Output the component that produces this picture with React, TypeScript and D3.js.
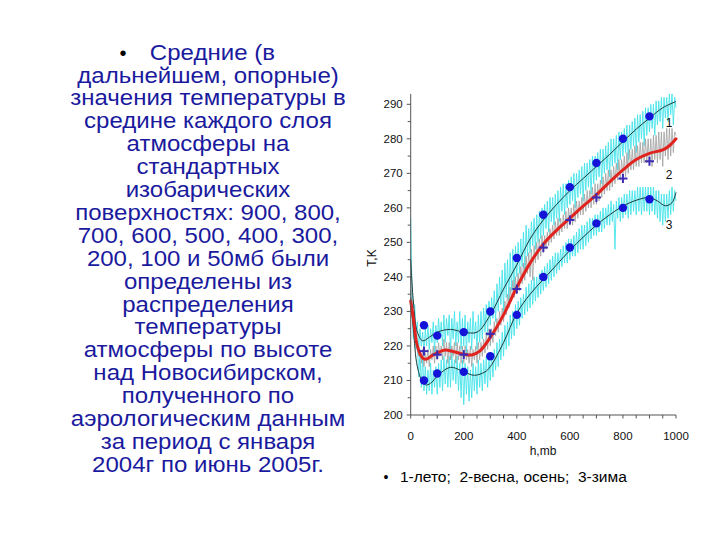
import React from 'react';
import * as d3 from 'd3';

// Standard isobaric levels (mb) and mean temperatures (K)
const levels = [50, 100, 200, 300, 400, 500, 600, 700, 800, 900];
const summerPoints = [226, 223, 224, 230, 245.5, 258, 266, 273, 280, 286.5];
const springAutumnPoints = [218.5, 217.5, 217.5, 223.5, 236.5, 248.5, 256.5, 263, 268.5, 273.5];
const winterPoints = [210, 212, 212.5, 217, 229, 240, 248.5, 255.5, 260, 262.5];

// Smoothed profiles (thin dark lines and red thick line)
const summerFitH = [0, 10, 25, 45, 70, 100, 150, 200, 250, 300, 350, 400, 450, 500, 550, 600, 650, 700, 750, 800, 850, 900, 950, 1000];
const summerFitT = [245, 233, 224, 221.5, 222.5, 224, 224.8, 224, 224, 229, 236.5, 243.5, 251, 256.5, 261, 265, 268.5, 272, 275.5, 279.2, 282.8, 286, 289, 290.8];

const winterFitH = [0, 10, 25, 45, 60, 80, 100, 150, 200, 240, 280, 300, 350, 400, 450, 500, 550, 600, 650, 700, 750, 800, 850, 900, 930, 960, 985, 1000];
const winterFitT = [234, 225, 214, 209.5, 208.7, 209.5, 211.3, 213.8, 212.5, 211.5, 212.5, 214, 221, 229.5, 235, 239.3, 243.5, 247.7, 251.5, 255, 258, 260.5, 262.2, 263, 262, 260.6, 261.5, 264.5];

const meanFitH = [0, 10, 25, 45, 60, 80, 100, 130, 160, 200, 230, 260, 300, 350, 400, 450, 500, 550, 600, 650, 700, 750, 800, 850, 900, 950, 975, 1000];
const meanFitT = [233, 228, 220, 216.5, 216.2, 217.2, 218, 218.8, 218.4, 217.6, 217.4, 218.5, 222.5, 229, 237, 244, 249.5, 253.5, 257, 260.5, 263.8, 267.5, 271, 274, 275.8, 276.8, 278, 280];

// Raw (noisy) profiles, every 5 mb from 0 to 1000
const noisyH = d3.range(0, 1001, 5);
const summerNoisy = [
  257, 236, 231, 232, 224, 227, 219, 225, 220, 224, 218, 225, 220, 226, 219, 225, 221, 227, 218, 226,
  221, 228, 222, 227, 220, 229, 221, 228, 223, 229, 218, 228, 222, 230, 220, 227, 221, 230, 219, 228,
  220, 229, 218, 227, 221, 228, 219, 230, 222, 227, 219, 229, 221, 230, 222, 231, 224, 232, 223, 233,
  226, 234, 228, 236, 227, 238, 230, 240, 232, 242, 230, 244, 234, 245, 233, 247, 236, 248, 235, 249,
  240, 250, 241, 251, 243, 253, 242, 255, 246, 254, 247, 256, 249, 257, 248, 258, 250, 259, 251, 260,
  252, 261, 254, 262, 253, 263, 256, 263, 255, 264, 257, 265, 256, 266, 259, 267, 258, 267, 260, 268,
  261, 269, 262, 270, 260, 270, 263, 271, 264, 272, 262, 273, 265, 273, 266, 274, 264, 275, 267, 275,
  268, 276, 269, 277, 267, 277, 270, 278, 271, 279, 269, 280, 272, 280, 273, 281, 271, 282, 274, 282,
  275, 283, 276, 284, 274, 284, 277, 285, 278, 286, 276, 287, 279, 287, 280, 288, 278, 289, 281, 289,
  282, 290, 283, 290, 281, 291, 284, 291, 285, 292, 283, 292, 286, 292, 285, 293, 287, 293, 284, 292,
  289,
];
const winterNoisy = [
  236, 228, 222, 224, 219, 221, 211, 218, 208, 217, 207, 214, 206, 213, 207, 215, 206, 213, 208, 214,
  206, 215, 208, 216, 207, 217, 209, 216, 208, 217, 208, 218, 210, 216, 209, 217, 207, 215, 205, 216,
  203, 215, 206, 214, 204, 213, 205, 215, 207, 214, 206, 216, 208, 215, 207, 216, 209, 217, 208, 217,
  210, 218, 211, 219, 213, 221, 214, 222, 216, 224, 217, 226, 219, 227, 220, 229, 222, 230, 223, 232,
  225, 233, 226, 234, 228, 235, 229, 237, 230, 238, 231, 239, 232, 240, 233, 240, 234, 241, 235, 242,
  236, 243, 237, 244, 238, 245, 239, 246, 240, 247, 241, 247, 242, 248, 243, 249, 244, 250, 244, 251,
  245, 251, 246, 252, 246, 253, 247, 254, 248, 255, 248, 255, 249, 256, 250, 257, 251, 257, 252, 258,
  252, 258, 253, 259, 253, 260, 254, 260, 255, 261, 255, 262, 256, 261, 248, 262, 257, 263, 256, 263,
  257, 264, 258, 264, 257, 265, 258, 265, 259, 265, 258, 266, 259, 266, 258, 266, 259, 266, 259, 266,
  258, 266, 259, 266, 258, 265, 257, 265, 256, 264, 255, 264, 256, 264, 257, 265, 258, 266, 259, 265,
  262,
];
const meanNoisy = [
  240, 232, 229, 226, 224, 219, 217, 219, 215, 219, 214, 218, 215, 219, 214, 219, 216, 220, 215, 220,
  216, 221, 217, 220, 216, 222, 217, 221, 215, 221, 216, 220, 217, 221, 215, 221, 216, 220, 215, 220,
  215, 220, 216, 219, 215, 220, 214, 219, 216, 220, 215, 221, 216, 221, 217, 222, 218, 224, 219, 225,
  220, 225, 221, 227, 223, 228, 224, 230, 226, 231, 227, 233, 229, 235, 231, 237, 233, 239, 234, 240,
  235, 241, 236, 243, 238, 244, 239, 246, 241, 247, 240, 248, 239, 249, 244, 250, 245, 251, 246, 252,
  247, 252, 248, 253, 249, 254, 250, 255, 251, 256, 252, 257, 252, 257, 253, 258, 254, 259, 254, 260,
  255, 260, 255, 261, 256, 262, 257, 262, 258, 263, 258, 264, 259, 265, 260, 265, 260, 266, 261, 267,
  261, 267, 262, 268, 263, 269, 264, 270, 265, 271, 265, 271, 266, 272, 267, 273, 268, 274, 268, 274,
  269, 275, 269, 276, 270, 277, 271, 277, 271, 278, 272, 278, 272, 279, 273, 279, 273, 280, 273, 280,
  273, 280, 272, 281, 274, 281, 273, 282, 274, 282, 272, 282, 275, 283, 274, 283, 275, 283, 276, 282,
  281,
];

const xTickLabels = [0, 200, 400, 600, 800, 1000];
const xMinorTicks = d3.range(0, 1001, 50);
const yTickLabels = [200, 210, 220, 230, 240, 250, 260, 270, 280, 290];
const yMinorTicks = d3.range(205, 290, 10);

const curveLabels = ['1', '2', '3'];
const curveLabelT = [284.7, 269.5, 255];

const bodyFirst = 'Средние (в';
const bodyLines = [
  'дальнейшем, опорные)',
  'значения температуры в',
  'средине каждого слоя',
  'атмосферы на',
  'стандартных',
  'изобарических',
  'поверхностях: 900, 800,',
  '700, 600, 500, 400, 300,',
  '200, 100 и 50мб были',
  'определены из',
  'распределения',
  'температуры',
  'атмосферы по высоте',
  'над Новосибирском,',
  'полученного по',
  'аэрологическим данным',
  'за период с января',
  '2004г по июнь 2005г.',
];
const legendText = '1-лето;  2-весна, осень;  3-зима';

const FONT = '"Liberation Sans", Arial, sans-serif';

export default function App() {
  const x = d3.scaleLinear().domain([0, 1000]).range([410.7, 676]);
  const y = d3.scaleLinear().domain([200, 290]).range([415, 104.3]);

  const smooth = d3
    .line<[number, number]>()
    .x((d) => x(d[0]))
    .y((d) => y(d[1]))
    .curve(d3.curveCatmullRom.alpha(0.5));
  const raw = d3
    .line<[number, number]>()
    .x((d) => x(d[0]))
    .y((d) => y(d[1]));

  const zip = (a: number[], b: number[]) => a.map((v, i) => [v, b[i]] as [number, number]);

  const textColor = '#1a1a9e';
  const cyan = '#45e3ea';

  return (
    <svg
      width={720}
      height={540}
      style={{ position: 'absolute', left: 0, top: 0, background: '#fff' }}
    >
      <rect x={0} y={0} width={720} height={540} fill="#fff" />

      {/* Left text block */}
      <g fontFamily={FONT} fontSize={21.5} fill={textColor} textAnchor="middle">
        <text x={123} y={60} fill="#000" textAnchor="middle" fontSize={20}>•</text>
        <text transform="translate(212.4,60) scale(1.118,1)">{bodyFirst}</text>
        {bodyLines.map((s, i) => (
          <text key={i} transform={`translate(208,${82.5 + i * 22.9}) scale(1.118,1)`}>
            {s}
          </text>
        ))}
      </g>

      {/* Noisy traces */}
      <path d={raw(zip(noisyH, summerNoisy)) || ''} fill="none" stroke={cyan} strokeWidth={0.9} />
      <path d={raw(zip(noisyH, winterNoisy)) || ''} fill="none" stroke={cyan} strokeWidth={0.9} />
      <path d={raw(zip(noisyH, meanNoisy)) || ''} fill="none" stroke="#a0a0a0" strokeWidth={0.8} />

      {/* Smoothed curves */}
      <path d={smooth(zip(summerFitH, summerFitT)) || ''} fill="none" stroke="#1d3b3b" strokeWidth={1} />
      <path d={smooth(zip(winterFitH, winterFitT)) || ''} fill="none" stroke="#1d3b3b" strokeWidth={1} />
      <path d={smooth(zip(meanFitH, meanFitT)) || ''} fill="none" stroke="#e0231e" strokeWidth={3} strokeLinecap="round" />

      {/* Points */}
      {levels.map((h, i) => (
        <circle key={'s' + i} cx={x(h)} cy={y(summerPoints[i])} r={4.2} fill="#1414d8" />
      ))}
      {levels.map((h, i) => (
        <circle key={'w' + i} cx={x(h)} cy={y(winterPoints[i])} r={4.2} fill="#1414d8" />
      ))}
      {levels.map((h, i) => (
        <g key={'m' + i} stroke="#3b2ab4" strokeWidth={2}>
          <line x1={x(h) - 4.5} x2={x(h) + 4.5} y1={y(springAutumnPoints[i])} y2={y(springAutumnPoints[i])} />
          <line x1={x(h)} x2={x(h)} y1={y(springAutumnPoints[i]) - 4.5} y2={y(springAutumnPoints[i]) + 4.5} />
        </g>
      ))}

      {/* Axes */}
      <g stroke="#555" strokeWidth={1} fill="none">
        <line x1={x(0)} x2={x(0)} y1={y(293)} y2={y(200)} />
        <line x1={x(0)} x2={x(1000)} y1={y(200)} y2={y(200)} />
        {xMinorTicks.map((t) => (
          <line key={'xt' + t} x1={x(t)} x2={x(t)} y1={y(200)} y2={y(200) + 3.5} />
        ))}
        {yTickLabels.map((t) => (
          <line key={'yt' + t} x1={x(0) - 4} x2={x(0)} y1={y(t)} y2={y(t)} />
        ))}
        {yMinorTicks.map((t) => (
          <line key={'ym' + t} x1={x(0) - 3} x2={x(0)} y1={y(t)} y2={y(t)} />
        ))}
      </g>
      <g fontFamily={FONT} fontSize={11.5} fill="#111">
        {xTickLabels.map((t) => (
          <text key={'xl' + t} x={x(t)} y={y(200) + 25} textAnchor="middle">
            {t}
          </text>
        ))}
        {yTickLabels.map((t) => (
          <text key={'yl' + t} x={x(0) - 8} y={y(t) + 4} textAnchor="end">
            {t}
          </text>
        ))}
        <text x={543} y={455} textAnchor="middle" fontSize={12}>h,mb</text>
        <text transform={`translate(376,258) rotate(-90)`} textAnchor="middle" fontSize={12}>T,K</text>
        {curveLabels.map((l, i) => (
          <text key={'cl' + i} x={669} y={y(curveLabelT[i]) + 4} textAnchor="middle" fontSize={12}>
            {l}
          </text>
        ))}
      </g>

      {/* Legend line */}
      <g fontFamily={FONT} fill="#000">
        <text x={386} y={482} textAnchor="middle" fontSize={14}>•</text>
        <text x={400} y={482} fontSize={15.5} style={{ whiteSpace: 'pre' }}>{legendText}</text>
      </g>
    </svg>
  );
}
